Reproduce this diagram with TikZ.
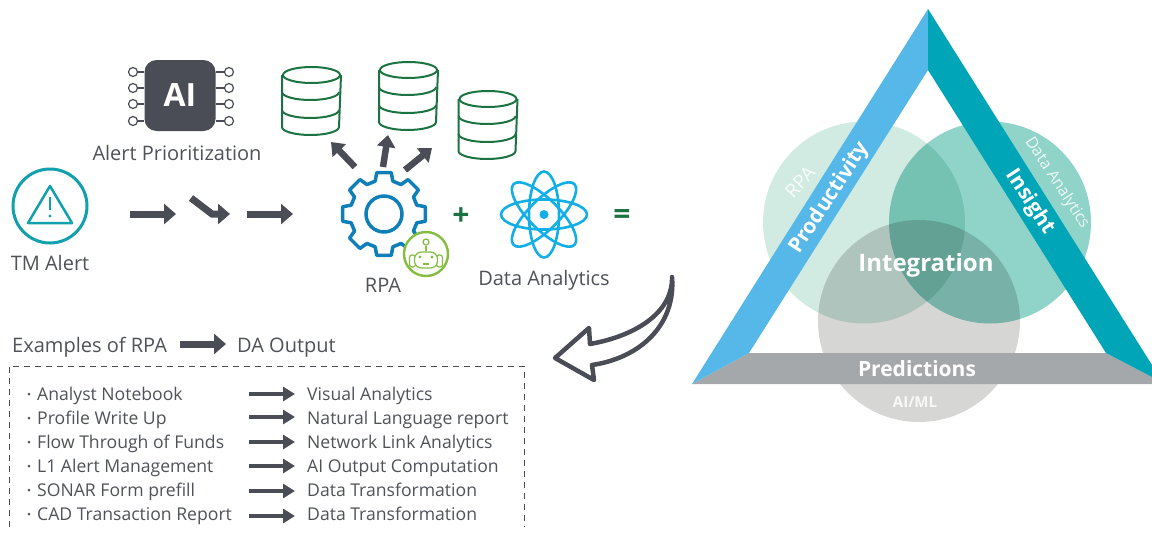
\documentclass[tikz,border=0pt]{standalone}
\usepackage{fontspec}
\setmainfont{Open Sans}
\usetikzlibrary{arrows.meta,shapes.geometric}
\definecolor{slate}{HTML}{4A4D55}
\definecolor{inktext}{HTML}{4F5258}
\definecolor{dbgreen}{HTML}{1A7340}
\definecolor{gearblue}{HTML}{0F7FBA}
\definecolor{atomblue}{HTML}{12AEE6}
\definecolor{botgreen}{HTML}{84BD3F}
\definecolor{alertteal}{HTML}{10A0AE}
\definecolor{barblue}{HTML}{55B8E8}
\definecolor{barteal}{HTML}{00A6B8}
\definecolor{bargray}{HTML}{A5A8AA}
\definecolor{rpafill}{HTML}{D1EAE2}
\definecolor{dafill}{HTML}{8FD3C9}
\definecolor{mlfill}{HTML}{D6D6D5}
\begin{document}
\begin{tikzpicture}
[x=1pt,y=-1pt,
  labeltext/.style={text=inktext,font=\fontsize{20}{24}\selectfont,inner sep=0pt,anchor=base},%
  rowtext/.style={text=inktext,font=\fontsize{17.6}{21}\selectfont,inner sep=0pt,anchor=base west},%
  blockarrow/.style={-{Triangle[length=12pt,width=20pt]},line width=7pt,slate},%
  midarrow/.style={-{Triangle[length=12pt,width=18pt]},line width=6.5pt,slate},%
  rowarrow/.style={-{Triangle[length=12pt,width=14pt]},line width=4.5pt,slate},%
  pinnode/.style={shape=circle,draw=slate,fill=white,line width=1.2pt,minimum size=9pt,inner sep=0pt},%
  dbtop/.style={shape=ellipse,draw=dbgreen,line width=2pt,minimum width=57pt,minimum height=16pt,inner sep=0pt},%
  dbline/.style={draw=dbgreen,line width=2pt},%
  bartext/.style={text=white,font=\bfseries\fontsize{21}{25}\selectfont,inner sep=0pt},%
  circtext/.style={text=white,opacity=0.85,font=\fontsize{16}{19}\selectfont,inner sep=0pt}]
\useasboundingbox (0,0) rectangle (1152,533);
%% venn circles, under the bars
\begin{scope}[blend group=multiply]
\fill[rpafill] (864,222.5) circle [radius=101];
\fill[dafill] (990,222.5) circle [radius=101];
\fill[mlfill] (919,321) circle [radius=101];
\end{scope}
%% triangle bars
\fill[bargray] (692,384) -- (749,353) -- (1106,353) -- (1152,377) -- (1152,384) -- cycle;
\fill[barblue] (928,9) -- (928,70) -- (749,353) -- (692,384) -- cycle;
\fill[barteal] (928,9) -- (928,70) -- (1106,353) -- (1152,377) -- (1152,365) -- cycle;
\node (prodlabel) at (830,198) [bartext,rotate=57] {Productivity};
\node (insightlabel) at (1030,202) [bartext,rotate=-57] {Insight};
\node (predlabel) at (917,376) [bartext,anchor=base] {Predictions};
\node (integlabel) at (926,271) [bartext,anchor=base,font=\bfseries\fontsize{24}{28}\selectfont] {Integration};
\node (rpalabel) at (800,182) [circtext,rotate=47,font=\fontsize{19}{22}\selectfont] {RPA};
\node (dalabel) at (1057,183) [circtext,rotate=-57] {Data Analytics};
\node (mllabel) at (915,407) [circtext,anchor=base,font=\bfseries\fontsize{15}{18}\selectfont] {AI/ML};
%% alert icon
\node (alert) at (50,206) [shape=circle,draw=alertteal,line width=3pt,minimum size=74pt,inner sep=0pt] {};
\draw[alertteal,line width=2.5pt,line join=round] (50,186) -- (28,223) -- (72,223) -- cycle;
\draw[alertteal,line width=2.5pt] (50,197) -- (50,210);
\fill[alertteal] (50,216) circle [radius=1.6];
\node (tmalert) at (50,270) [labeltext] {TM Alert};
%% chip
\node (chipai) at (180,95.5) [shape=rectangle,rounded corners=12pt,fill=slate,minimum size=71pt,inner sep=0pt,text=white,font=\bfseries\fontsize{32}{36}\selectfont] {AI};
\foreach \nodename/\y in {a/72, b/88, c/104, d/121}
{
  \node (left\nodename) at (133,\y) [pinnode] {};
  \node (right\nodename) at (229,\y) [pinnode] {};
  \draw[slate,line width=1.2pt] (left\nodename) -- (left\nodename -| chipai.west);
  \draw[slate,line width=1.2pt] (right\nodename) -- (right\nodename -| chipai.east);
}
\node (alertprio) at (177,160) [labeltext] {Alert Prioritization};
%% databases
\foreach \nodename/\x/\y in {dba/311.5/75, dbb/408.5/70, dbc/488/99}
{
  \node (\nodename) at (\x,\y) [dbtop] {};
  \draw[dbline] (\nodename.west) -- ++(0,52) arc [start angle=180,end angle=0,x radius=28.5,y radius=8] -- (\nodename.east);
  \foreach \d in {17,35}
  {
    \draw[dbline] (\nodename.west) ++(0,\d) arc [start angle=180,end angle=0,x radius=28.5,y radius=8];
  }
}
%% gear and robot
\node (gear) at (384,214) [shape=circle,draw=gearblue,line width=3.5pt,minimum size=36pt,inner sep=0pt] {};
\begin{scope}[shift={(384,214)}]
\draw[gearblue,line width=3.5pt,line join=round] (-15:34)
  \foreach \a in {0,45,...,315} { -- (\a-15:34) -- (\a-10:42) -- (\a+10:42) -- (\a+15:34) } -- cycle;
\end{scope}
\node (robot) at (426,254) [shape=circle,draw=botgreen,fill=white,line width=2.4pt,minimum size=44pt,inner sep=0pt] {};
\node (earl) at (412.5,261) [shape=rectangle,rounded corners=2.5pt,draw=botgreen,line width=1.2pt,minimum width=6pt,minimum height=12pt,inner sep=0pt] {};
\node (earr) at (439.5,261) [shape=rectangle,rounded corners=2.5pt,draw=botgreen,line width=1.2pt,minimum width=6pt,minimum height=12pt,inner sep=0pt] {};
\node (bothead) at (426,260) [shape=rectangle,rounded corners=7pt,draw=botgreen,fill=white,line width=1.2pt,minimum width=23pt,minimum height=16pt,inner sep=0pt] {};
\node (antenna) at (426,242) [shape=circle,draw=botgreen,line width=1.2pt,minimum size=6pt,inner sep=0pt] {};
\draw[botgreen,line width=1.2pt] (antenna) -- (bothead);
\fill[botgreen] (420,257) circle [radius=1.6] (432,257) circle [radius=1.6];
\draw[botgreen,line width=1.2pt] (423,264) -- (429,264);
\node (rpa) at (383,292) [labeltext] {RPA};
%% atom
\node (atom) at (544,214.5) [shape=circle,fill=atomblue,minimum size=9pt,inner sep=0pt] {};
\foreach \r in {0,45,90,135}
{
  \draw[atomblue,line width=2.6pt,rotate around={\r:(544,214.5)}] (544,214.5) ellipse [x radius=43,y radius=15];
}
\node (analytics) at (544,285) [labeltext] {Data Analytics};
\node (plus) at (461,217) [text=dbgreen,font=\bfseries\fontsize{30}{30}\selectfont,inner sep=0pt] {+};
\node (equals) at (622,217) [text=dbgreen,font=\bfseries\fontsize{30}{30}\selectfont,inner sep=0pt] {=};
%% hollow arrow
\draw[slate,line width=4.5pt,line join=round,line cap=round,fill=white] (672,277)
  .. controls (673,310) and (640,335) .. (590,344) -- (589,328) -- (555,358) -- (594,380) -- (592,365)
  .. controls (640,358) and (676,325) .. (672,277);
%% arrows, both ends named
\foreach \nodename/\x/\y in {flowa/130/214, flowb/176/214, flowc/191/198, flowd/212/214,
  flowe/230/214, flowf/247/214, flowg/293/214, heada/180/344, headb/226/344,
  mida/355/167, midb/331/142, midc/383/167, midd/388/135, mide/405/170, midf/432/148}
{
  \coordinate (\nodename) at (\x,\y);
}
\path
\foreach \startnode/\endnode in {flowa/flowb, flowf/flowg, heada/headb} {
  (\startnode) edge[blockarrow] (\endnode)
};
\draw[blockarrow] (flowc) -- (flowd) -- (flowe);
\path
\foreach \startnode/\endnode in {mida/midb, midc/midd, mide/midf} {
  (\startnode) edge[midarrow] (\endnode)
};
%% list header and box
\node (examples) at (12,352) [labeltext,anchor=base west] {Examples of RPA};
\node (output) at (237,352) [labeltext,anchor=base west] {DA Output};
\coordinate (boxa) at (9,527);
\coordinate (boxb) at (9,366);
\coordinate (boxc) at (524,366);
\coordinate (boxd) at (524,527);
\draw[slate,line width=0.8pt,dash pattern=on 6pt off 5pt] (boxa) -- (boxb) -- (boxc) -- (boxd);
%% rows
\foreach \rowname/\y/\arrowy/\lefttext/\righttext in {a/394/394/Analyst Notebook/Visual Analytics,
  b/418/417/Profile Write Up/Natural Language report,
  c/442/442/Flow Through of Funds/Network Link Analytics,
  d/466/466/L1 Alert Management/AI Output Computation,
  e/490/491/SONAR Form prefill/Data Transformation,
  f/514/516/CAD Transaction Report/Data Transformation}
{
  \node (bullet\rowname) at (29,\y) [shape=circle,fill=inktext,minimum size=3pt,inner sep=0pt] {};
  \node (src\rowname) at (37,\y+6.5) [rowtext] {\lefttext};
  \node (dst\rowname) at (307,\y+6.5) [rowtext] {\righttext};
  \coordinate (froma\rowname) at (249,\arrowy);
  \coordinate (toa\rowname) at (295,\arrowy);
  \draw[rowarrow] (froma\rowname) -- (toa\rowname);
}
\end{tikzpicture}
\end{document}
